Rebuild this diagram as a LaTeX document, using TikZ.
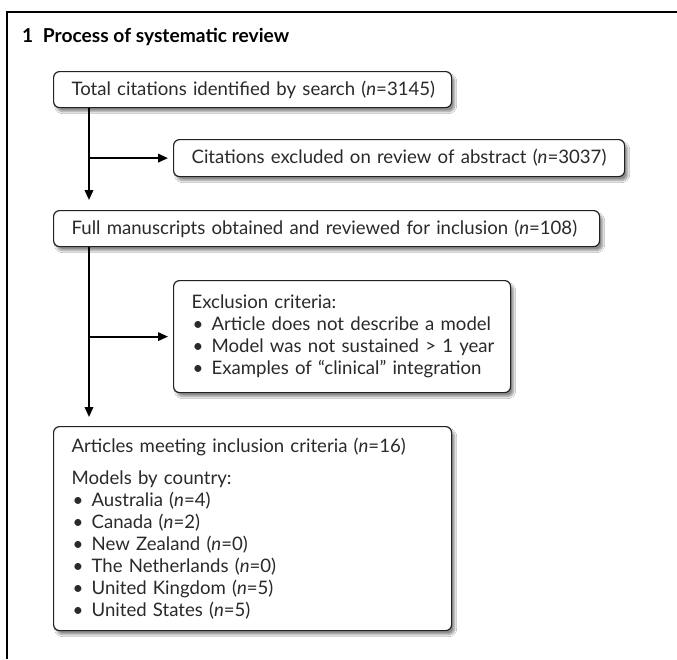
\documentclass[tikz,border=0pt]{standalone}
\usepackage{fontspec}
\setmainfont{Lato}
\usetikzlibrary{arrows.meta,shadows.blur}
\definecolor{txt}{HTML}{2A2A2A}
\definecolor{edge}{HTML}{222222}
\tikzset{
  box/.style={draw=edge, line width=1.2pt, rounded corners=6pt, fill=white,
    anchor=north west, inner xsep=18pt, inner ysep=0pt, align=left, text=txt,
    font=\fontsize{18.6}{22}\selectfont,
    blur shadow={shadow xshift=3pt, shadow yshift=-4pt, shadow blur steps=8, shadow opacity=45}},
  arr/.style={line width=2pt, -{Triangle[length=10pt,width=8.5pt]}}
}
\newcommand{\oneline}[1]{\mbox{#1}}
\newcommand{\bul}[1]{\mbox{\makebox[20pt][l]{\hspace{1pt}\textbullet}#1}}
\newcommand{\nn}{\textit{n}}
\begin{document}
\begin{tikzpicture}[x=1pt,y=-1pt]
\useasboundingbox (0,0) rectangle (677,659);
\fill[white] (0,0) rectangle (677,659);
\draw[line width=2.4pt] (7,659) -- (7,12) -- (677,12);
\node[anchor=base west, font=\fontsize{19.2}{24}\selectfont\bfseries, inner sep=0pt] (title) at (22,42) {1\hspace{0.5em}Process of systematic review};

\node[box, minimum width=398pt, minimum height=36pt, text width=362pt] (b1) at (53,71)
  {\oneline{Total citations identified by search (\nn=3145)}};
\node[box, minimum width=451pt, minimum height=37pt, text width=415pt] (b2) at (173,139)
  {\oneline{Citations excluded on review of abstract (\nn=3037)}};
\node[box, minimum width=546pt, minimum height=36pt, text width=510pt] (b3) at (53,210)
  {\oneline{Full manuscripts obtained and reviewed for inclusion (\nn=108)}};
\node[box, minimum width=337pt, minimum height=112pt, text width=301pt] (b4) at (173,280)
  {\oneline{Exclusion criteria:}\\
   \bul{Article does not describe a model}\\
   \bul{Model was not sustained > 1 year}\\
   \bul{Examples of “clinical” integration}};
\node[box, minimum width=398pt, minimum height=204pt, text width=362pt] (b5) at (53,426)
  {\oneline{Articles meeting inclusion criteria (\nn=16)}\\[10pt]
   \oneline{Models by country:}\\
   \bul{Australia (\nn=4)}\\
   \bul{Canada (\nn=2)}\\
   \bul{New Zealand (\nn=0)}\\
   \bul{The Netherlands (\nn=0)}\\
   \bul{United Kingdom (\nn=5)}\\
   \bul{United States (\nn=5)}};

\coordinate (s1) at ([xshift=36pt]b1.south west);
\coordinate (s3) at ([xshift=36pt]b3.south west);
\draw[arr, shorten >=10pt] (s1) -- (s1 |- b3.north);
\draw[arr, shorten >=5pt] (s1 |- b2.west) -- (b2.west);
\draw[arr, shorten >=9pt] (s3) -- (s3 |- b5.north);
\draw[arr, shorten >=5pt] (s3 |- b4.west) -- (b4.west);
\end{tikzpicture}
\end{document}
